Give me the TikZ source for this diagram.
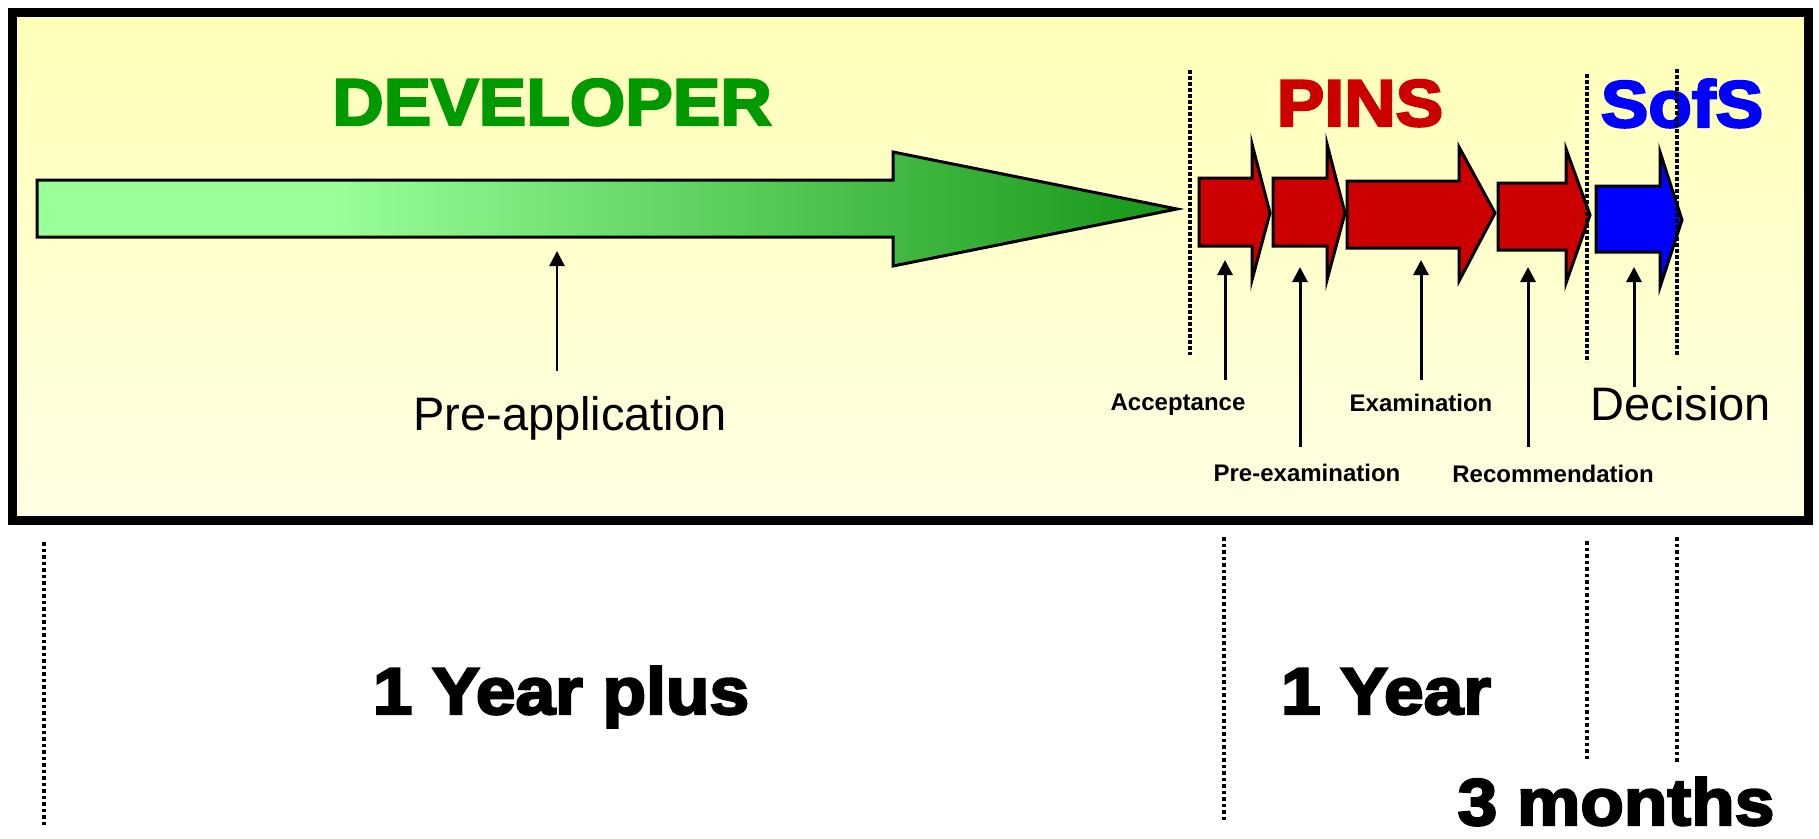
\documentclass[tikz,border=0pt]{standalone}
\usepackage{fontspec}
\setmainfont{Liberation Sans}
\newfontfamily\heavyfont[FakeBold=3.5,FakeStretch=1.08]{Liberation Sans Bold}
\usetikzlibrary{arrows.meta}
\definecolor{yellowtop}{RGB}{255,255,183}
\definecolor{yellowbot}{RGB}{255,255,228}
\definecolor{lgreen}{RGB}{153,255,153}
\definecolor{dgreen}{RGB}{22,150,22}
\definecolor{devgreen}{RGB}{0,153,0}
\definecolor{pinsred}{RGB}{204,0,0}
\definecolor{sofsblue}{RGB}{0,0,255}
\pgfdeclarehorizontalshading{greenarrow}{100bp}{color(0bp)=(lgreen); color(25bp)=(lgreen); color(38bp)=(lgreen); color(75bp)=(dgreen); color(100bp)=(dgreen)}
\begin{document}
\begin{tikzpicture}[x=1pt,y=-1pt,
  outline/.style={draw=black,line width=3pt,line join=miter},
  vdots/.style={line width=4pt,dash pattern=on 3.5pt off 2.5pt},
  ldots/.style={line width=3.5pt,dash pattern=on 3.5pt off 3pt},
  pointer/.style={line width=3pt,-{Triangle[width=15pt,length=15pt]}},
  big/.style={font=\heavyfont\fontsize{66}{66}\selectfont,anchor=base,inner sep=0pt},
  small/.style={font=\bfseries\fontsize{24}{24}\selectfont,anchor=base,inner sep=0pt},
  plain/.style={font=\fontsize{47}{47}\selectfont,anchor=base,inner sep=0pt},
]
\useasboundingbox (0,0) rectangle (1819,838);
\fill[white] (0,0) rectangle (1819,838);
% frame
\draw[line width=9pt, top color=yellowtop, bottom color=yellowbot] (12,12) rectangle (1808,520);
% green arrow
\path[outline, shade, shading=greenarrow] (37,180) -- (893,180) -- (893,152) -- (1177,209) -- (893,266) -- (893,237) -- (37,237) -- cycle;
% red arrows
\path[outline, fill=pinsred] (1199,178) -- (1252,178) -- (1252,144) -- (1270,213) -- (1252,280) -- (1252,246) -- (1199,246) -- cycle;
\path[outline, fill=pinsred] (1273,178) -- (1327,178) -- (1327,144) -- (1345,213) -- (1327,280) -- (1327,246) -- (1273,246) -- cycle;
\path[outline, fill=pinsred] (1347,181) -- (1459,181) -- (1459,147) -- (1495,213) -- (1459,281) -- (1459,248) -- (1347,248) -- cycle;
\path[outline, fill=pinsred] (1498,183) -- (1566,183) -- (1566,149) -- (1590,215) -- (1566,283) -- (1566,250) -- (1498,250) -- cycle;
% blue arrow
\path[outline, fill=sofsblue] (1596,186) -- (1660,186) -- (1660,152) -- (1682,220) -- (1660,287) -- (1660,252) -- (1596,252) -- cycle;
% titles
\node[big, text=devgreen] (dev) at (552,125) {DEVELOPER};
\node[big, text=pinsred] (pins) at (1360,126) {PINS};
\node[big, text=sofsblue] (sofs) at (1682,127) {SofS};
% labels
\node[plain] (preapp) at (570,430) {Pre-application};
\node[plain] (dec) at (1681,420) {Decision};
\node[small] (acc) at (1178,410) {Acceptance};
\node[small] (exam) at (1421,411) {Examination};
\node[small] (preexam) at (1307,481) {Pre-examination};
\node[small] (rec) at (1553,482) {Recommendation};
% pointers
\coordinate (pa1) at (557,371); \coordinate (pa2) at (557,251);
\coordinate (ac1) at (1225,380); \coordinate (ac2) at (1225,260);
\coordinate (pe1) at (1300,447); \coordinate (pe2) at (1300,267);
\coordinate (ex1) at (1421,380); \coordinate (ex2) at (1421,260);
\coordinate (re1) at (1528,447); \coordinate (re2) at (1528,267);
\coordinate (de1) at (1634,387); \coordinate (de2) at (1634,267);
\draw[pointer, line width=2.5pt] (pa1) -- (pa2);
\draw[pointer] (ac1) -- (ac2);
\draw[pointer] (pe1) -- (pe2);
\draw[pointer] (ex1) -- (ex2);
\draw[pointer] (re1) -- (re2);
\draw[pointer] (de1) -- (de2);
% durations
\node[big] (yplus) at (561,714) {1 Year plus};
\node[big] (oney) at (1386,714) {1 Year};
\node[big] (three) at (1616,825) {3 months};
% dotted separators inside
\draw[vdots] (1190,70) -- (1190,355);
\draw[vdots] (1587,74) -- (1587,362);
\draw[vdots] (1677,69) -- (1677,356);
% dotted separators below
\draw[ldots] (44,542) -- (44,828);
\draw[ldots] (1224,537) -- (1224,823);
\draw[ldots] (1587,541) -- (1587,760);
\draw[ldots] (1677,537) -- (1677,763);
\end{tikzpicture}
\end{document}
